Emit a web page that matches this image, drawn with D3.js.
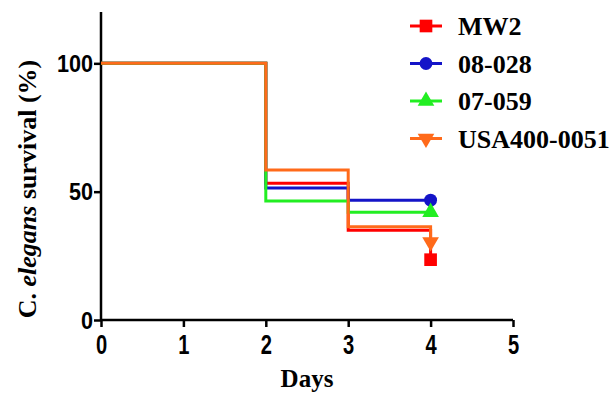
<!DOCTYPE html>
<html>
<head>
<meta charset="utf-8">
<script src="https://cdn.jsdelivr.net/npm/d3@7"></script>
<style>
  body { margin: 0; background: #fff; }
  svg { display: block; }
</style>
</head>
<body>
<svg id="chart" width="611" height="395"></svg>
<script>
// survival data
var days = [0, 2, 3, 4]
var seriesNames = ['MW2', '08-028', '07-059', 'USA400-0051']
var mw2 = [100, 53.3, 35.0, 23.5]
var s08028 = [100, 51.4, 46.7, 46.7]
var s07059 = [100, 46.4, 42.0, 42.0]
var usa400 = [100, 58.4, 36.3, 30.4]
var xTicks = [0, 1, 2, 3, 4, 5]
var yTicks = [0, 50, 100]

var seriesValues = [mw2, s08028, s07059, usa400]
var colors = ['#ff0000', '#1414c8', '#22ee22', '#ff6a1a']
var symbols = [d3.symbolSquare, d3.symbolCircle, d3.symbolTriangle, d3.symbolTriangle]
var symbolRot = [0, 0, 0, 180]
var symbolSize = [160, 130, 120, 120]

var svg = d3.select('#chart')
var x = d3.scaleLinear().domain([0, 5]).range([101, 513])
var y = d3.scaleLinear().domain([0, 120]).range([320, 12])

// axes
var xAxis = svg.append('g')
  .attr('transform', 'translate(0,' + y(0) + ')')
  .call(d3.axisBottom(x).tickValues(xTicks).tickSize(7).tickSizeOuter(0).tickFormat(d3.format('d')))
var yAxis = svg.append('g')
  .attr('transform', 'translate(' + x(0) + ',0)')
  .call(d3.axisLeft(y).tickValues(yTicks).tickSize(7).tickSizeOuter(0))

svg.selectAll('.domain, .tick line').attr('stroke', '#000').attr('stroke-width', 2.5)
yAxis.select('.domain').attr('d', 'M0,' + y(0) + 'V' + y(120))
xAxis.select('.domain').attr('d', 'M' + x(0) + ',0H' + x(5))

xAxis.selectAll('.tick text')
  .attr('font-family', 'Liberation Sans, Arial, sans-serif')
  .attr('font-weight', 'bold')
  .attr('font-size', 28)
  .attr('fill', '#000')
  .attr('y', 14)
  .attr('x', 0)
  .attr('transform', 'scale(0.72,1)')
yAxis.selectAll('.tick text')
  .attr('font-family', 'Liberation Sans, Arial, sans-serif')
  .attr('font-weight', 'bold')
  .attr('font-size', 24)
  .attr('fill', '#000')
  .attr('x', -9)
  .attr('dy', '0.34em')
  .attr('transform', 'scale(0.9,1)')

// step lines
var line = d3.line()
  .x(function(d){return x(d[0])})
  .y(function(d){return y(d[1])})
  .curve(d3.curveStepAfter)

seriesValues.forEach(function(vals, i){
  var pts = days.map(function(d, j){return [d, vals[j]]})
  svg.append('path')
    .datum(pts)
    .attr('d', line)
    .attr('fill', 'none')
    .attr('stroke', colors[i])
    .attr('stroke-width', 3)
})
// end markers
seriesValues.forEach(function(vals, i){
  var last = vals.length - 1
  svg.append('path')
    .attr('d', d3.symbol().type(symbols[i]).size(symbolSize[i]))
    .attr('transform', 'translate(' + x(days[last]) + ',' + y(vals[last]) + ') rotate(' + symbolRot[i] + ')')
    .attr('fill', colors[i])
})

// axis titles
svg.append('text')
  .attr('x', 307).attr('y', 387)
  .attr('text-anchor', 'middle')
  .attr('font-family', 'Liberation Serif, Times New Roman, serif')
  .attr('font-weight', 'bold')
  .attr('font-size', 25)
  .text('Days')

var yt = svg.append('text')
  .attr('transform', 'translate(36,189) rotate(-90)')
  .attr('text-anchor', 'middle')
  .attr('font-family', 'Liberation Serif, Times New Roman, serif')
  .attr('font-weight', 'bold')
  .attr('font-size', 26)
yt.append('tspan').text('C. ')
yt.append('tspan').attr('font-style', 'italic').text('elegans')
yt.append('tspan').text(' survival (%)')

// legend
var legend = svg.append('g')
seriesNames.forEach(function(name, i){
  var ly = 26 + i * 37.5
  var g = legend.append('g').attr('transform', 'translate(0,' + ly + ')')
  g.append('line').attr('x1', 410).attr('x2', 442).attr('y1', 0).attr('y2', 0)
    .attr('stroke', colors[i]).attr('stroke-width', 3)
  g.append('path')
    .attr('d', d3.symbol().type(symbols[i]).size(symbolSize[i]))
    .attr('transform', 'translate(426,0) rotate(' + symbolRot[i] + ')')
    .attr('fill', colors[i])
  g.append('text')
    .attr('x', 458).attr('y', 0).attr('dy', '0.35em')
    .attr('font-family', 'Liberation Serif, Times New Roman, serif')
    .attr('font-weight', 'bold')
    .attr('font-size', 26)
    .text(name)
})
</script>
</body>
</html>
